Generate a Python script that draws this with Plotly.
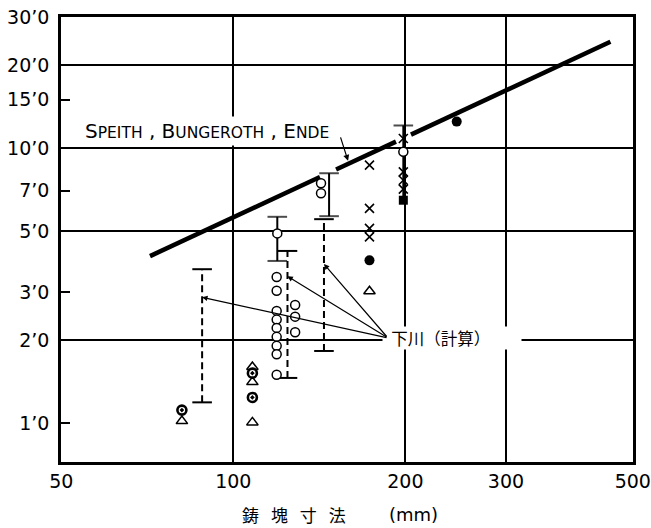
import math
import plotly.graph_objects as go

lg = math.log10

# ---- data -------------------------------------------------------------
# Speith, Bungeroth, Ende relation (end points) and the breaks cut into it
speith_x = [71.5, 457.0]
speith_y = [4.05, 24.4]
speith_breaks = [(141.8, 151.3), (192.6, 204.6)]

# measured ranges (solid bars)
solid_x = [119.4, 147.1, 198.4]
solid_lo = [3.89, 5.66, 6.47]
solid_hi = [5.63, 8.11, 12.1]
solid_lo_cap = [True, True, False]

# 下川 calculated ranges (dashed bars)
calc_x = [88.2, 124.4, 144.1]
calc_lo = [1.19, 1.46, 1.83]
calc_hi = [3.63, 4.23, 5.52]
calc_arrow_y = [2.87, 3.42, 3.79]
calc_label_at = (186.5, 2.04)

# observations
circle_x = [119.4, 142.4, 142.4, 198.4,
            119.1, 119.1, 119.1, 119.1, 119.1, 119.1, 119.1, 119.1, 119.1,
            128.3, 128.3, 128.3]
circle_y = [4.90, 7.46, 6.86, 9.70,
            3.40, 3.03, 2.56, 2.38, 2.22, 2.06, 1.91, 1.78, 1.50,
            2.69, 2.44, 2.14]
cross_x = [173.1, 173.1, 173.1, 173.1, 198.4, 198.4, 198.4, 198.4]
cross_y = [8.68, 6.04, 5.11, 4.76, 10.85, 8.20, 7.65, 7.10]
dot_x = [173.1, 246.0]
dot_y = [3.91, 12.5]
ring_x = [81.3, 108.0, 108.0]
ring_y = [1.115, 1.52, 1.24]
tri_x = [81.3, 108.0, 108.0, 108.0, 173.1]
tri_y = [1.017, 1.60, 1.41, 1.006, 3.02]
square_x = [198.4]
square_y = [6.47]

x_ticks = [50, 100, 200, 300, 500]
x_labels = ["50", "100", "200", "300", "500"]
x_grid = [100, 200, 300]
y_ticks = [1, 2, 3, 5, 7, 10, 15, 20, 30]
y_labels = ["1’0", "2’0", "3’0", "5’0", "7’0", "10’0", "15’0", "20’0", "30’0"]
y_grid = [2, 5, 10, 20]

# ---- figure -------------------------------------------------------------
LATIN = "DejaVu Sans"
CJK = "Noto Sans CJK JP"
fig = go.Figure()


def on_speith(x):
    t = (lg(x) - lg(speith_x[0])) / (lg(speith_x[1]) - lg(speith_x[0]))
    return 10 ** (lg(speith_y[0]) + t * (lg(speith_y[1]) - lg(speith_y[0])))


lx, ly = [speith_x[0]], [speith_y[0]]
for a, b in speith_breaks:
    lx += [a, None, b]
    ly += [on_speith(a), None, on_speith(b)]
lx.append(speith_x[1])
ly.append(speith_y[1])
fig.add_trace(go.Scatter(x=lx, y=ly, mode="lines",
                         line=dict(color="black", width=4.5)))

for xb, lo, hi, cap in zip(solid_x, solid_lo, solid_hi, solid_lo_cap):
    fig.add_trace(go.Scatter(
        x=[xb, xb], y=[lo, hi], mode="lines+markers",
        line=dict(color="black", width=2),
        marker=dict(symbol="line-ew-open", size=[14 if cap else 0, 14],
                    color="black", line=dict(color="black", width=2))))

for xb, lo, hi in zip(calc_x, calc_lo, calc_hi):
    fig.add_trace(go.Scatter(
        x=[xb, xb], y=[lo, hi], mode="lines+markers",
        line=dict(color="black", width=2, dash="7px,4px"),
        marker=dict(symbol="line-ew-open", size=14, color="black",
                    line=dict(color="black", width=2))))

fig.add_trace(go.Scatter(x=cross_x, y=cross_y, mode="markers",
                         marker=dict(symbol="x-thin-open", size=9, color="black",
                                     line=dict(color="black", width=1.6))))
fig.add_trace(go.Scatter(x=circle_x, y=circle_y, mode="markers",
                         marker=dict(symbol="circle", size=9, color="white",
                                     line=dict(color="black", width=1.5))))
fig.add_trace(go.Scatter(x=tri_x, y=tri_y, mode="markers",
                         marker=dict(symbol="triangle-up", size=10, color="white",
                                     line=dict(color="black", width=1.5))))
fig.add_trace(go.Scatter(x=ring_x, y=ring_y, mode="markers",
                         marker=dict(symbol="circle-dot", size=9, color="white",
                                     line=dict(color="black", width=2.6))))
fig.add_trace(go.Scatter(x=dot_x, y=dot_y, mode="markers",
                         marker=dict(symbol="circle", size=10, color="black")))
fig.add_trace(go.Scatter(x=square_x, y=square_y, mode="markers",
                         marker=dict(symbol="square", size=9, color="black")))

ann = []
ann.append(dict(
    xref="paper", yref="paper", x=0.256, y=0.7438,
    xanchor="center", yanchor="middle", showarrow=False,
    text=("S<span style='font-size:15.5px'>PEITH</span> , "
          "B<span style='font-size:15.5px'>UNGEROTH</span> , "
          "E<span style='font-size:15.5px'>NDE</span>"),
    font=dict(family=LATIN, size=20, color="black"),
    bgcolor="white", borderpad=2))
ann.append(dict(
    x=lg(158.8), y=lg(9.0), text="", showarrow=True, ax=-8, ay=-25,
    arrowhead=2, arrowsize=1, arrowwidth=1.2, arrowcolor="black"))
ann.append(dict(
    xref="paper", yref="paper", x=0.5612, y=0.2787, xanchor="left",
    yanchor="middle", showarrow=False, text="\u2002下川（計算）",
    width=138, height=22, align="left", borderpad=0, bgcolor="white",
    font=dict(family=CJK, size=16.5, color="black")))
for xb, yb in zip(calc_x, calc_arrow_y):
    ann.append(dict(
        x=lg(xb), y=lg(yb), axref="x", ayref="y",
        ax=lg(calc_label_at[0]), ay=lg(calc_label_at[1]), text="",
        showarrow=True, arrowhead=2, arrowsize=0.9, arrowwidth=1.2,
        arrowcolor="black", standoff=0))
ann.append(dict(
    xref="paper", yref="paper", x=0.4065, y=-0.1191,
    xanchor="center", yanchor="middle", showarrow=False,
    text="鋳\u2002\u2009塊\u2002\u2009寸\u2002\u2009法",
    font=dict(family=CJK, size=17, color="black")))
ann.append(dict(
    xref="paper", yref="paper", x=0.6154, y=-0.1191,
    xanchor="center", yanchor="middle", showarrow=False,
    text="(mm)", font=dict(family=LATIN, size=18, color="black")))

fig.update_layout(
    width=651, height=528, autosize=False,
    margin=dict(l=61, r=18, t=17, b=66, autoexpand=False),
    paper_bgcolor="white", plot_bgcolor="white",
    showlegend=False, annotations=ann,
    font=dict(family=LATIN, color="black"),
)
fig.update_xaxes(
    type="log", range=[lg(49.95), lg(500.5)], automargin=False,
    tickmode="array", tickvals=x_ticks, ticktext=x_labels,
    ticks="", showgrid=False, zeroline=False,
    minor=dict(tickmode="array", tickvals=x_grid, showgrid=True,
               gridcolor="black", gridwidth=1.5, ticks=""),
    showline=True, linecolor="black", linewidth=2.6, mirror=True,
    tickfont=dict(family=LATIN, size=19, color="black"),
    ticklabelstandoff=0,
)
fig.update_yaxes(
    type="log", range=[lg(0.722), lg(30.02)], automargin=False,
    tickmode="array", tickvals=y_ticks, ticktext=y_labels,
    ticks="inside", ticklen=9, tickwidth=1.6, tickcolor="black",
    showgrid=False, zeroline=False,
    minor=dict(tickmode="array", tickvals=y_grid, showgrid=True,
               gridcolor="black", gridwidth=1.5, ticks=""),
    showline=True, linecolor="black", linewidth=2.6, mirror=True,
    tickfont=dict(family=LATIN, size=19, color="black"),
    ticklabelstandoff=5,
)

fig.write_html("out.html")
